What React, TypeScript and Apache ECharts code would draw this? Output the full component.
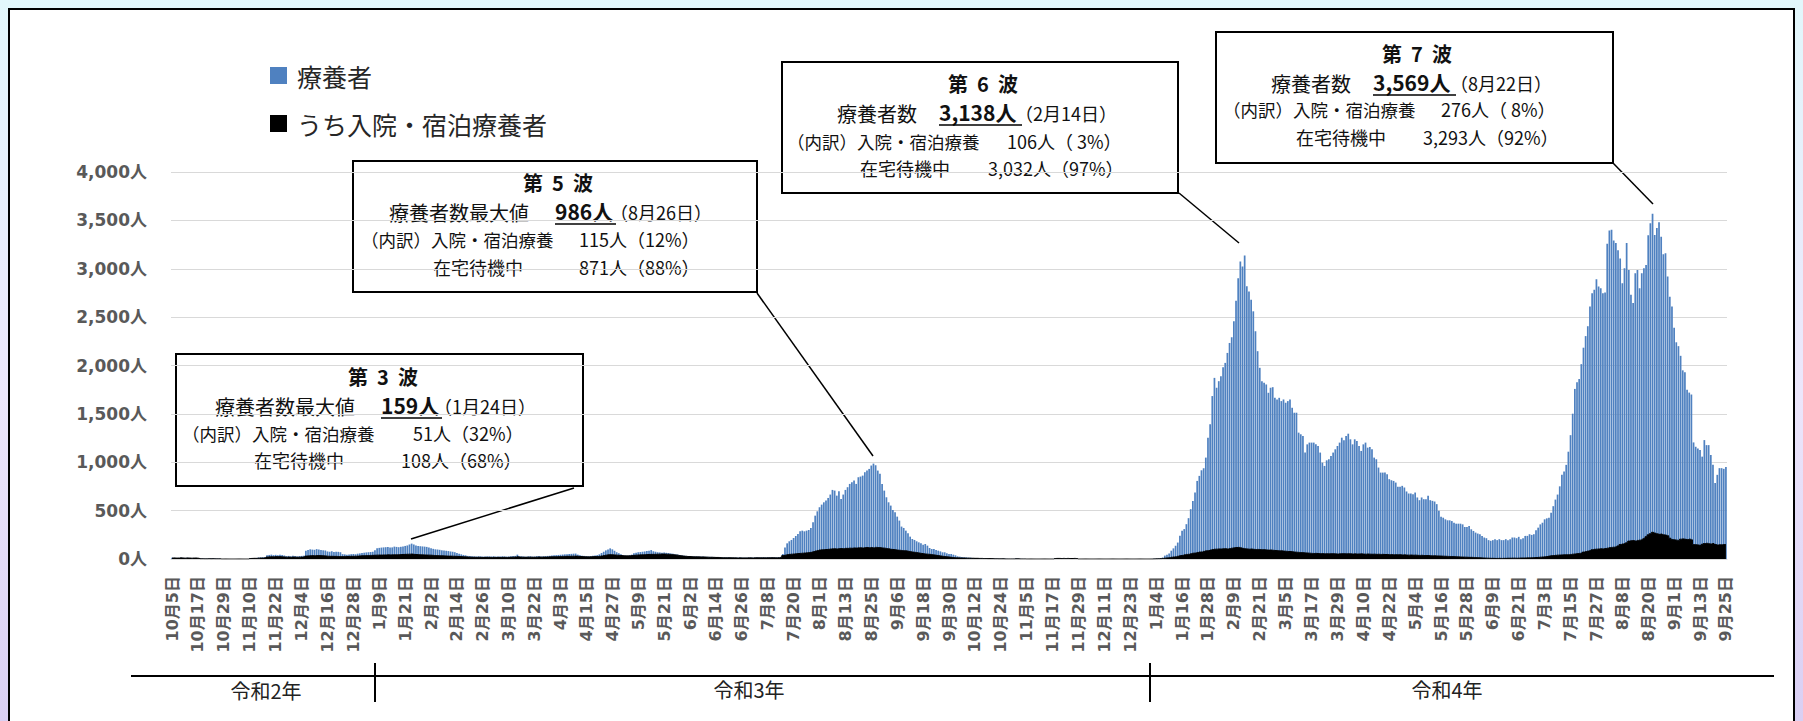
import React, { useEffect, useRef } from "react";
import * as echarts from "echarts";

// ---- categories: daily, 2020-10-05 .. 2022-09-25 ----
const startYear = 2020;
const startMonth = 10;
const startDay = 5;
const dayCount = 721;
const labelEvery = 12;

// ---- y axis ticks ----
const yTicks = [0, 500, 1000, 1500, 2000, 2500, 3000, 3500, 4000];

// ---- 療養者 (total) ----
const total2020H2 = [
  12, 13, 11, 12, 14, 12, 11, 13, 12, 10, 11, 12, 9,
  5, 4, 3, 3, 4,
  4, 5, 4, 3, 4,
  0, 0, 0, 0, 0, 0, 0, 0, 0, 0, 0, 0, 0,
  6, 7, 8, 9,
  15, 17, 18, 20,
  38, 42, 45, 40, 43, 39, 44, 41, 36,
  30, 32, 28, 33, 31, 27, 30, 32, 34,
  85, 92, 100, 97, 95, 102, 98, 94, 90, 88,
  78, 75, 80, 72, 76, 74, 70,
  50, 48, 45, 47, 50, 52, 49, 55,
  58,
];
const total2021H1 = [
  62, 65, 68, 70, 72, 75, 90, 110, 115, 118, 120, 122, 125, 118, 120, 128, 125, 122, 126, 130, 135, 140, 150, 159, 150, 140, 135, 132, 130, 128, 125,
  118, 110, 105, 100, 98, 95, 90, 88, 85, 82, 78, 75, 70, 62, 55, 48, 42, 38, 32, 30, 28, 27, 26, 28, 27, 25, 26, 27,
  27, 26, 28, 25, 27, 26, 28, 27, 25, 26, 28, 30, 32, 45, 30, 28, 26, 24, 27, 28, 25, 26, 29, 30, 27, 28, 30, 32, 33, 35, 38,
  40, 42, 44, 46, 48, 50, 52, 53, 55, 56, 45, 38, 34, 32, 30, 28, 30, 33, 35, 40, 48, 62, 75, 89, 98, 110, 100, 85, 70, 60,
  48, 40, 36, 34, 38, 45, 60, 65, 70, 72, 75, 78, 82, 85, 92, 80, 75, 70, 68, 65, 66, 64, 62, 58, 55, 50, 47, 42, 38, 35, 32,
  30, 29, 28, 27, 27, 26, 25, 25, 24, 23, 22, 22, 21, 20, 20, 19, 18, 18, 17, 17, 16, 16, 15, 15, 16, 15, 14, 14, 15, 16,
];
const total2021H2 = [
  15, 16, 17, 16, 17, 18, 17, 18, 17, 19, 18, 17, 19, 22, 52, 120, 162, 183, 197, 217, 238, 259, 286, 293, 286, 293, 300, 321, 380, 448, 493,
  535, 562, 586, 604, 631, 666, 714, 707, 655, 700, 621, 666, 714, 742, 776, 793, 811, 776, 845, 852, 862, 897, 914, 931, 966, 986, 969, 914, 880, 776, 707,
  638, 586, 552, 507, 483, 438, 397, 335, 321, 293, 266, 231, 207, 197, 183, 172, 162, 148, 155, 138, 114, 103, 103, 93, 86, 79, 69, 69, 59, 52,
  52, 45, 38, 28, 24, 21, 17, 17, 14, 14, 10, 10, 7, 7, 7, 6, 6, 5, 5, 5, 4, 3, 3, 2, 2, 2, 1, 1, 1, 1, 4,
  3, 2, 1, 1, 0, 0, 0, 0, 0, 0, 0, 0, 0, 0, 0, 0, 0, 5, 6, 6, 5, 6, 5, 6, 5, 5, 6, 5, 0, 0,
  0, 0, 0, 0, 0, 0, 0, 0, 0, 0, 0, 0, 0, 0, 0, 0, 0, 0, 0, 0, 0, 0, 0, 0, 0, 0, 0, 0, 0, 0, 0,
];
const total2022 = [
  0, 0, 2, 3, 5, 8, 15, 35, 45, 58, 86, 110, 137, 170, 240, 292, 309, 360, 422, 515, 600, 687, 807, 859, 917, 938, 1048, 1254, 1392, 1684, 1872,
  1770, 1838, 1890, 1983, 2027, 2130, 2233, 2292, 2457, 2670, 2903, 3075, 3024, 3138, 2818, 2766, 2680, 2560, 2354, 2148, 1976, 1838, 1821, 1804, 1718, 1770, 1776, 1666,
  1649, 1666, 1632, 1649, 1615, 1632, 1649, 1563, 1512, 1512, 1306, 1289, 1271, 1100, 1185, 1203, 1203, 1203, 1185, 1168, 1100, 996, 962, 1020, 1031, 1065, 1100, 1134, 1168, 1203, 1254,
  1227, 1271, 1295, 1237, 1185, 1237, 1220, 1168, 1117, 1185, 1203, 1151, 1158, 1134, 1048, 1031, 945, 893, 893, 893, 876, 825, 814, 807, 790, 746, 746, 756, 739, 698,
  677, 677, 670, 687, 636, 608, 636, 618, 618, 653, 608, 601, 594, 567, 498, 436, 427, 410, 400, 400, 392, 375, 365, 365, 365, 358, 331, 331, 341, 307, 290,
  273, 263, 256, 239, 222, 215, 195, 188, 195, 205, 195, 205, 195, 195, 205, 195, 205, 222, 222, 215, 229, 205, 215, 239, 239, 256, 249, 256, 297, 324,
  358, 375, 410, 420, 427, 478, 546, 614, 666, 751, 870, 904, 973, 1109, 1280, 1502, 1758, 1826, 1860, 2014, 2184, 2304, 2406, 2611, 2747, 2782, 2891, 2816, 2799, 2747, 2754,
  3259, 3396, 3403, 3293, 3266, 3191, 3106, 2850, 3004, 3266, 2987, 2730, 2645, 2953, 2987, 2799, 2953, 3004, 3038, 3345, 3470, 3569, 3350, 3420, 3480, 3330, 3150, 3160, 2920, 2710, 2610,
  2390, 2240, 2200, 2100, 1950, 1930, 1750, 1720, 1700, 1205, 1160, 1143, 1126, 1058, 1229, 1177, 1177, 1075, 973, 785, 870, 939, 939, 932, 950,
];

// ---- うち入院・宿泊療養者 (hospital + hotel) ----
const hosp2020H2 = [
  10, 11, 10, 10, 12, 10, 9, 11, 10, 9, 10, 10, 8,
  3, 3, 2, 2, 3,
  2, 3, 2, 2, 2,
  0, 0, 0, 0, 0, 0, 0, 0, 0, 0, 0, 0, 0,
  5, 6, 7, 7,
  9, 10, 10, 11,
  20, 22, 24, 23, 25, 24, 24, 22, 21,
  19, 20, 18, 20, 19, 18, 19, 20, 21,
  30, 32, 34, 35, 34, 36, 35, 34, 33, 32,
  29, 28, 28, 27, 27, 26, 26,
  26, 27, 26, 27, 28, 28, 29, 30,
  32,
];
const hosp2021H1 = [
  33, 34, 35, 36, 37, 38, 39, 40, 41, 41, 42, 42, 43, 42, 43, 44, 44, 45, 46, 47, 48, 49, 50, 51, 48, 46, 45, 44, 43, 42, 41,
  40, 39, 37, 36, 35, 34, 33, 32, 31, 30, 30, 29, 28, 27, 26, 25, 24, 22, 20, 19, 18, 18, 17, 18, 17, 16, 17, 17,
  17, 16, 17, 16, 17, 16, 17, 17, 16, 17, 18, 19, 20, 24, 20, 19, 18, 18, 19, 19, 18, 18, 19, 20, 19, 20, 20, 21, 22, 22, 23,
  24, 25, 26, 27, 27, 28, 28, 29, 29, 30, 28, 26, 25, 24, 23, 22, 23, 24, 25, 26, 28, 32, 36, 40, 43, 45, 44, 42, 40, 38,
  36, 34, 33, 33, 34, 36, 38, 40, 42, 43, 44, 45, 46, 47, 48, 48, 49, 50, 50, 51, 51, 50, 49, 47, 45, 42, 40, 36, 33, 30, 28,
  26, 25, 24, 23, 23, 22, 21, 21, 20, 19, 18, 18, 17, 16, 16, 15, 14, 14, 13, 13, 12, 12, 12, 11, 12, 11, 11, 11, 12, 12,
];
const hosp2021H2 = [
  11, 12, 12, 12, 12, 13, 12, 13, 12, 13, 13, 12, 14, 16, 35, 40, 45, 48, 50, 52, 54, 56, 58, 60, 62, 64, 66, 69, 75, 82, 88,
  93, 95, 96, 98, 100, 103, 105, 106, 104, 106, 108, 107, 110, 110, 112, 111, 114, 113, 115, 116, 114, 117, 118, 116, 119, 115, 120, 118, 117, 114, 112,
  108, 105, 100, 98, 95, 92, 90, 88, 86, 84, 80, 76, 72, 69, 66, 62, 58, 55, 52, 50, 48, 45, 42, 38, 35, 32, 28, 25, 22, 20,
  17, 15, 13, 12, 11, 10, 10, 9, 9, 8, 8, 7, 7, 6, 6, 5, 5, 4, 4, 4, 3, 3, 2, 2, 2, 1, 1, 1, 1, 1, 2,
  2, 1, 1, 1, 0, 0, 0, 0, 0, 0, 0, 0, 0, 0, 0, 0, 0, 5, 6, 6, 5, 6, 5, 6, 5, 5, 6, 5, 0, 0,
  0, 0, 0, 0, 0, 0, 0, 0, 0, 0, 0, 0, 0, 0, 0, 0, 0, 0, 0, 0, 0, 0, 0, 0, 0, 0, 0, 0, 0, 0, 0,
];
const hosp2022 = [
  0, 0, 1, 2, 3, 4, 6, 9, 11, 13, 18, 21, 23, 29, 34, 37, 43, 47, 49, 55, 60, 61, 67, 72, 73, 79, 84, 85, 92, 98, 101,
  102, 104, 103, 105, 107, 104, 108, 112, 115, 118, 120, 116, 110, 106, 104, 101, 103, 100, 98, 99, 97, 95, 96, 94, 92, 93, 90, 88,
  86, 84, 85, 82, 80, 78, 77, 75, 72, 70, 68, 66, 65, 63, 62, 60, 58, 57, 58, 56, 55, 56, 54, 55, 53, 54, 55, 53, 52, 54, 55,
  54, 53, 55, 54, 52, 53, 51, 52, 53, 51, 50, 52, 50, 49, 50, 48, 49, 47, 48, 46, 47, 45, 46, 44, 45, 43, 44, 42, 43, 41,
  40, 41, 39, 40, 38, 37, 38, 36, 35, 36, 34, 33, 34, 32, 31, 30, 29, 28, 27, 26, 25, 24, 23, 22, 21, 20, 19, 18, 17, 17, 16,
  15, 14, 12, 11, 10, 9, 8, 7, 7, 6, 6, 7, 6, 7, 7, 8, 8, 9, 9, 8, 9, 10, 10, 11, 12, 12, 13, 14, 15, 17,
  19, 21, 23, 26, 30, 34, 36, 38, 40, 41, 42, 43, 44, 45, 47, 50, 52, 55, 58, 62, 72, 78, 82, 86, 95, 100, 102, 104, 106, 104, 108,
  112, 118, 120, 122, 125, 135, 150, 155, 160, 168, 185, 188, 190, 186, 192, 195, 198, 210, 230, 250, 262, 276, 268, 260, 255, 258, 250, 248, 240, 215, 200,
  198, 195, 192, 205, 208, 204, 200, 205, 198, 150, 148, 145, 140, 152, 160, 162, 158, 155, 160, 150, 145, 148, 147, 150, 148,
];

const seriesNames = ["療養者", "うち入院・宿泊療養者"];
const eraLabels = ["令和2年", "令和3年", "令和4年"];

const totalValues = [...total2020H2, ...total2021H1, ...total2021H2, ...total2022];
const hospValues = [...hosp2020H2, ...hosp2021H1, ...hosp2021H2, ...hosp2022];

function buildCategories(): string[] {
  const out: string[] = [];
  const d = new Date(Date.UTC(startYear, startMonth - 1, startDay));
  for (let i = 0; i < dayCount; i++) {
    out.push(`${d.getUTCMonth() + 1}月${d.getUTCDate()}日`);
    d.setUTCDate(d.getUTCDate() + 1);
  }
  return out;
}

const JP = "'Noto Sans CJK JP', sans-serif";
const NUMJP = "'DejaVu Sans', 'Noto Sans CJK JP', sans-serif";
const INK = "#111111";

type Part = { t: string; x: number; y: number; size: number; bold?: boolean; align?: string; ul?: [number, number] };

function annotation(rect: [number, number, number, number], parts: Part[], leader: [number, number, number, number]) {
  const children: any[] = [
    {
      type: "rect",
      shape: { x: rect[0], y: rect[1], width: rect[2] - rect[0], height: rect[3] - rect[1] },
      style: { fill: "#ffffff", stroke: "#000000", lineWidth: 2 },
    },
  ];
  for (const p of parts) {
    children.push({
      type: "text",
      x: p.x,
      y: p.y,
      style: {
        text: p.t,
        fill: INK,
        fontSize: p.size,
        lineHeight: p.size,
        fontWeight: p.bold ? "bold" : "normal",
        fontFamily: JP,
        textAlign: p.align || "left",
        textVerticalAlign: "middle",
      },
    });
    if (p.ul) {
      children.push({
        type: "line",
        shape: { x1: p.ul[0], y1: p.y + 13, x2: p.ul[1], y2: p.y + 13 },
        style: { stroke: "#000", lineWidth: 1.5 },
      });
    }
  }
  children.push({
    type: "line",
    shape: { x1: leader[0], y1: leader[1], x2: leader[2], y2: leader[3] },
    style: { stroke: "#000", lineWidth: 1.5 },
  });
  return { type: "group", z: 50, children };
}

function buildOption() {
  const categories = buildCategories();
  const graphic: any[] = [
    {
      type: "rect",
      z: -20,
      silent: true,
      shape: { x: 9, y: 9, width: 1785, height: 740 },
      style: { fill: "#ffffff", stroke: "#000000", lineWidth: 2 },
    },
    // era bracket
    { type: "line", z: 5, shape: { x1: 131, y1: 676, x2: 1774, y2: 676 }, style: { stroke: "#000", lineWidth: 2 } },
    { type: "line", z: 5, shape: { x1: 375, y1: 663, x2: 375, y2: 702 }, style: { stroke: "#000", lineWidth: 2 } },
    { type: "line", z: 5, shape: { x1: 1150, y1: 663, x2: 1150, y2: 702 }, style: { stroke: "#000", lineWidth: 2 } },
    ...eraLabels.map((t, k) => ({
      type: "text",
      z: 5,
      x: [266, 749, 1447][k],
      y: [690, 689, 689][k],
      style: { text: t, fill: "#222", fontSize: 20, fontFamily: JP, textAlign: "center", textVerticalAlign: "middle" },
    })),
    annotation(
      [176, 354, 583, 486],
      [
        { t: "第  3  波", x: 383, y: 376, size: 20, bold: true, align: "center" },
        { t: "療養者数最大値", x: 215, y: 406, size: 20 },
        { t: "159人", x: 381, y: 405, size: 21, bold: true, ul: [381, 442] },
        { t: "（1月24日）", x: 434, y: 406, size: 18 },
        { t: "（内訳）入院・宿泊療養", x: 182, y: 433, size: 17.5 },
        { t: "51人（32%）", x: 413, y: 433, size: 18 },
        { t: "在宅待機中", x: 254, y: 460, size: 18 },
        { t: "108人（68%）", x: 401, y: 460, size: 18 },
      ],
      [574, 488, 411, 539]
    ),
    annotation(
      [353, 161, 757, 292],
      [
        { t: "第  5  波", x: 558, y: 182, size: 20, bold: true, align: "center" },
        { t: "療養者数最大値", x: 389, y: 212, size: 20 },
        { t: "986人", x: 555, y: 211, size: 21, bold: true, ul: [555, 616] },
        { t: "（8月26日）", x: 610, y: 212, size: 18 },
        { t: "（内訳）入院・宿泊療養", x: 361, y: 239, size: 17.5 },
        { t: "115人（12%）", x: 579, y: 239, size: 18 },
        { t: "在宅待機中", x: 433, y: 267, size: 18 },
        { t: "871人（88%）", x: 579, y: 267, size: 18 },
      ],
      [757, 293, 873, 456]
    ),
    annotation(
      [782, 62, 1178, 193],
      [
        { t: "第  6  波", x: 983, y: 83, size: 20, bold: true, align: "center" },
        { t: "療養者数", x: 837, y: 113, size: 20 },
        { t: "3,138人", x: 939, y: 112, size: 21, bold: true, ul: [939, 1022] },
        { t: "（2月14日）", x: 1015, y: 113, size: 18 },
        { t: "（内訳）入院・宿泊療養", x: 787, y: 141, size: 17.5 },
        { t: "106人（ 3%）", x: 1007, y: 141, size: 18 },
        { t: "在宅待機中", x: 860, y: 168, size: 18 },
        { t: "3,032人（97%）", x: 988, y: 168, size: 18 },
      ],
      [1179, 193, 1239, 243]
    ),
    annotation(
      [1216, 32, 1613, 163],
      [
        { t: "第  7  波", x: 1417, y: 53, size: 20, bold: true, align: "center" },
        { t: "療養者数", x: 1271, y: 83, size: 20 },
        { t: "3,569人", x: 1373, y: 82, size: 21, bold: true, ul: [1373, 1456] },
        { t: "（8月22日）", x: 1450, y: 83, size: 18 },
        { t: "（内訳）入院・宿泊療養", x: 1223, y: 109, size: 17.5 },
        { t: "276人（ 8%）", x: 1441, y: 109, size: 18 },
        { t: "在宅待機中", x: 1296, y: 137, size: 18 },
        { t: "3,293人（92%）", x: 1423, y: 137, size: 18 },
      ],
      [1613, 163, 1653, 204]
    ),
  ];

  return {
    animation: false,
    backgroundColor: "transparent",
    textStyle: { fontFamily: JP },
    legend: {
      data: seriesNames,
      orient: "vertical",
      left: 270,
      top: 63,
      padding: 0,
      icon: "rect",
      itemWidth: 17,
      itemHeight: 17,
      itemGap: 23,
      selectedMode: false,
      textStyle: { fontSize: 25, color: "#262626", fontFamily: JP, padding: [0, 0, 0, 5] },
    },
    grid: { left: 171, right: 76, top: 172, bottom: 162, containLabel: false, outerBoundsMode: "none" },
    xAxis: {
      type: "category",
      data: categories,
      boundaryGap: true,
      axisLine: { show: true, lineStyle: { color: "#d9d9d9", width: 1 } },
      axisTick: { show: false },
      axisLabel: {
        interval: labelEvery - 1,
        rotate: 90,
        margin: 17,
        color: "#595959",
        fontSize: 16,
        fontWeight: "bold",
        fontFamily: NUMJP,
      },
    },
    yAxis: {
      type: "value",
      min: yTicks[0],
      max: yTicks[yTicks.length - 1],
      interval: yTicks[1] - yTicks[0],
      axisLine: { show: false },
      axisTick: { show: false },
      splitLine: { lineStyle: { color: "#d9d9d9", width: 1 } },
      axisLabel: {
        margin: 24,
        color: "#595959",
        fontSize: 17,
        fontWeight: "bold",
        fontFamily: NUMJP,
        formatter: (v: number) => `${v.toLocaleString("en-US")}人`,
      },
    },
    series: [
      {
        name: seriesNames[0],
        type: "bar",
        data: totalValues,
        barCategoryGap: "20%",
        itemStyle: { color: "#4f81c0" },
        z: 2,
      },
      {
        name: seriesNames[1],
        type: "line",
        data: hospValues,
        step: "middle",
        symbol: "none",
        showSymbol: false,
        lineStyle: { color: "#000", width: 1 },
        itemStyle: { color: "#000" },
        areaStyle: { color: "#000", opacity: 1 },
        z: 3,
      },
    ],
    graphic,
  };
}

export default function App() {
  const ref = useRef<HTMLDivElement>(null);
  useEffect(() => {
    if (!ref.current) return;
    const chart = echarts.init(ref.current, undefined, { renderer: "svg", width: 1803, height: 721 });
    chart.setOption(buildOption() as any);
    return () => chart.dispose();
  }, []);
  return (
    <div
      style={{
        position: "fixed",
        left: 0,
        top: 0,
        width: 1803,
        height: 721,
        overflow: "hidden",
        background: "linear-gradient(180deg, #e2f7fb 0%, #ece6fb 55%, #d9cff3 100%)",
      }}
    >
      <div ref={ref} style={{ width: 1803, height: 721 }} />
    </div>
  );
}
